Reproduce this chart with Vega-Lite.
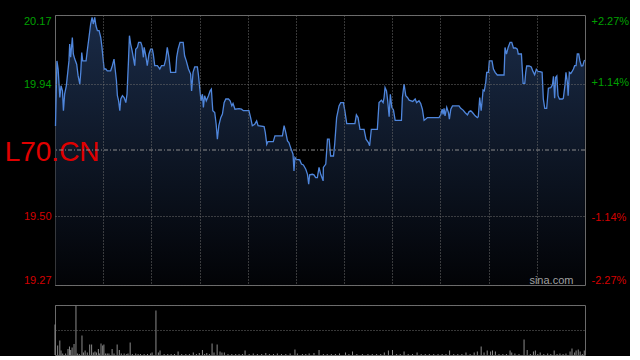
{
"$schema": "https://vega.github.io/schema/vega-lite/v6.json",
"background": "#000000",
"padding": {"left": 4, "top": 14, "right": 0, "bottom": 0},
"spacing": 17,
"config": {
  "view": {"stroke": "#6a6a6a", "strokeWidth": 1},
  "axis": {"labelFont": "Liberation Sans", "labelFontSize": 11, "ticks": false, "domain": false, "gridColor": "#6e6e6e", "gridDash": [1, 2], "gridWidth": 1},
  "text": {"font": "Liberation Sans"}
},
"datasets": {
  "price": [
{"t":0.2,"p":19.800},{"t":0.8,"p":20.017},{"t":1.3,"p":19.990},{"t":2.0,"p":19.895},{"t":2.5,"p":19.934},{"t":3.1,"p":19.917},{"t":3.5,"p":19.851},{"t":4.0,"p":19.906},{"t":4.7,"p":19.934},{"t":5.8,"p":20.017},{"t":6.1,"p":20.073},{"t":6.5,"p":20.029},{"t":7.2,"p":20.095},{"t":7.6,"p":20.040},{"t":8.2,"p":20.023},{"t":9.0,"p":20.006},{"t":9.6,"p":19.967},{"t":10.3,"p":19.940},{"t":10.7,"p":19.979},{"t":11.1,"p":20.045},{"t":11.5,"p":20.017},{"t":12.9,"p":20.017},{"t":13.4,"p":20.051},{"t":14.1,"p":20.095},{"t":14.8,"p":20.140},{"t":15.4,"p":20.162},{"t":15.9,"p":20.140},{"t":16.5,"p":20.162},{"t":17.0,"p":20.134},{"t":17.6,"p":20.118},{"t":18.3,"p":20.118},{"t":19.0,"p":20.095},{"t":19.5,"p":20.062},{"t":19.9,"p":20.029},{"t":20.4,"p":19.990},{"t":21.1,"p":19.990},{"t":21.7,"p":19.984},{"t":23.1,"p":19.984},{"t":23.8,"p":20.001},{"t":24.5,"p":20.023},{"t":24.9,"p":19.995},{"t":25.5,"p":19.951},{"t":25.9,"p":19.901},{"t":26.4,"p":19.884},{"t":26.9,"p":19.851},{"t":27.3,"p":19.890},{"t":28.0,"p":19.901},{"t":28.7,"p":19.895},{"t":29.4,"p":19.878},{"t":29.9,"p":19.906},{"t":30.5,"p":20.017},{"t":30.9,"p":20.101},{"t":31.4,"p":20.073},{"t":32.0,"p":20.051},{"t":32.5,"p":20.029},{"t":33.1,"p":20.001},{"t":33.5,"p":20.056},{"t":34.2,"p":20.062},{"t":34.7,"p":20.079},{"t":35.6,"p":20.079},{"t":36.1,"p":20.067},{"t":36.7,"p":20.029},
{"t":37.0,"p":20.062},{"t":37.7,"p":20.034},{"t":38.3,"p":20.001},{"t":39.0,"p":20.040},{"t":39.7,"p":20.056},{"t":40.4,"p":20.056},{"t":40.8,"p":20.040},{"t":41.4,"p":20.001},{"t":42.5,"p":20.001},{"t":43.5,"p":19.990},{"t":44.2,"p":20.001},{"t":45.3,"p":20.001},{"t":46.0,"p":20.023},{"t":46.6,"p":20.062},{"t":47.3,"p":20.029},{"t":48.0,"p":19.979},{"t":50.1,"p":19.979},{"t":50.5,"p":20.029},{"t":51.1,"p":20.056},{"t":51.9,"p":20.079},{"t":53.2,"p":20.079},{"t":53.8,"p":20.034},{"t":54.5,"p":20.017},{"t":55.4,"p":19.990},{"t":56.3,"p":19.973},{"t":56.7,"p":19.917},{"t":57.3,"p":19.979},{"t":58.0,"p":19.997},{"t":59.1,"p":19.997},{"t":59.5,"p":19.973},{"t":60.2,"p":19.917},{"t":60.6,"p":19.884},{"t":61.2,"p":19.906},{"t":61.6,"p":19.862},{"t":62.1,"p":19.901},{"t":62.8,"p":19.884},{"t":63.7,"p":19.901},{"t":64.4,"p":19.917},{"t":64.9,"p":19.923},{"t":65.5,"p":19.851},{"t":66.3,"p":19.845},{"t":66.9,"p":19.806},{"t":67.4,"p":19.756},{"t":68.0,"p":19.801},{"t":68.8,"p":19.828},{"t":69.5,"p":19.840},{"t":70.2,"p":19.878},{"t":70.9,"p":19.890},{"t":72.0,"p":19.890},{"t":72.7,"p":19.884},{"t":73.4,"p":19.867},{"t":73.9,"p":19.875},{"t":74.7,"p":19.856},
{"t":76.4,"p":19.858},{"t":77.4,"p":19.856},{"t":78.2,"p":19.851},{"t":80.5,"p":19.851},{"t":81.2,"p":19.828},{"t":81.9,"p":19.801},{"t":82.9,"p":19.806},{"t":83.7,"p":19.817},{"t":84.3,"p":19.801},{"t":86.8,"p":19.798},{"t":87.3,"p":19.778},{"t":87.9,"p":19.739},{"t":88.4,"p":19.748},{"t":90.6,"p":19.748},{"t":91.3,"p":19.767},{"t":94.4,"p":19.767},{"t":95.1,"p":19.801},{"t":95.8,"p":19.778},{"t":96.5,"p":19.750},{"t":97.1,"p":19.745},{"t":97.8,"p":19.728},{"t":98.8,"p":19.706},{"t":99.2,"p":19.650},{"t":99.6,"p":19.695},{"t":100.2,"p":19.689},{"t":101.6,"p":19.687},{"t":102.3,"p":19.673},{"t":103.1,"p":19.670},{"t":104.1,"p":19.656},{"t":104.8,"p":19.639},{"t":105.3,"p":19.606},{"t":105.7,"p":19.637},{"t":106.8,"p":19.639},{"t":107.5,"p":19.637},{"t":108.2,"p":19.628},{"t":108.9,"p":19.628},{"t":109.6,"p":19.662},{"t":110.3,"p":19.639},{"t":111.3,"p":19.617},
{"t":111.4,"p":19.662},{"t":112.4,"p":19.673},{"t":113.1,"p":19.756},{"t":113.8,"p":19.756},{"t":114.4,"p":19.700},{"t":115.6,"p":19.700},{"t":116.1,"p":19.739},{"t":116.9,"p":19.828},{"t":117.9,"p":19.867},{"t":118.6,"p":19.878},{"t":119.7,"p":19.878},{"t":120.3,"p":19.851},{"t":121.1,"p":19.808},{"t":124.5,"p":19.808},{"t":125.1,"p":19.837},{"t":125.8,"p":19.828},{"t":126.6,"p":19.789},{"t":128.3,"p":19.789},{"t":129.1,"p":19.756},{"t":130.1,"p":19.745},{"t":130.6,"p":19.734},{"t":131.3,"p":19.789},{"t":133.8,"p":19.789},{"t":134.5,"p":19.878},{"t":135.5,"p":19.886},{"t":136.2,"p":19.878},{"t":136.6,"p":19.895},{"t":137.0,"p":19.928},{"t":137.6,"p":19.917},{"t":138.1,"p":19.884},{"t":138.7,"p":19.831},{"t":139.2,"p":19.906},{"t":139.8,"p":19.862},{"t":140.5,"p":19.853},{"t":141.2,"p":19.819},{"t":143.8,"p":19.819},{"t":144.2,"p":19.895},{"t":144.9,"p":19.940},{"t":145.6,"p":19.901},{"t":146.3,"p":19.895},{"t":147.0,"p":19.886},{"t":148.5,"p":19.882},{"t":149.5,"p":19.890},
{"t":150.1,"p":19.878},{"t":151.1,"p":19.884},{"t":151.8,"p":19.875},{"t":152.5,"p":19.856},{"t":153.2,"p":19.819},{"t":153.9,"p":19.823},{"t":154.6,"p":19.828},{"t":159.4,"p":19.828},{"t":160.1,"p":19.837},{"t":160.7,"p":19.856},{"t":161.1,"p":19.839},{"t":161.5,"p":19.859},{"t":161.9,"p":19.834},{"t":162.6,"p":19.862},{"t":163.3,"p":19.845},{"t":163.7,"p":19.823},{"t":164.3,"p":19.856},{"t":165.0,"p":19.867},{"t":167.7,"p":19.867},{"t":168.4,"p":19.859},{"t":169.4,"p":19.853},{"t":170.2,"p":19.845},{"t":171.2,"p":19.837},{"t":171.9,"p":19.848},{"t":172.6,"p":19.851},{"t":173.3,"p":19.845},{"t":174.4,"p":19.834},{"t":175.3,"p":19.828},{"t":175.7,"p":19.831},{"t":176.3,"p":19.895},{"t":176.9,"p":19.851},{"t":177.3,"p":19.884},{"t":177.7,"p":19.920},{"t":178.2,"p":19.917},{"t":178.8,"p":19.945},{"t":179.2,"p":19.979},{"t":179.9,"p":19.979},{"t":180.3,"p":20.017},{"t":181.4,"p":20.017},{"t":182.0,"p":19.990},{"t":182.7,"p":19.979},{"t":183.6,"p":19.970},{"t":186.4,"p":19.970},{"t":186.8,"p":20.062},
{"t":187.4,"p":20.040},{"t":188.1,"p":20.062},{"t":188.9,"p":20.079},{"t":189.6,"p":20.079},{"t":190.3,"p":20.060},{"t":191.2,"p":20.060},{"t":191.9,"p":20.056},{"t":192.3,"p":20.040},{"t":193.6,"p":20.040},{"t":194.3,"p":19.942},{"t":195.0,"p":19.942},{"t":195.4,"p":19.979},{"t":195.8,"p":20.000},{"t":196.8,"p":20.000},{"t":197.7,"p":19.997},{"t":198.4,"p":19.982},{"t":199.1,"p":19.971},{"t":199.8,"p":19.989},{"t":200.5,"p":19.982},{"t":201.3,"p":19.981},{"t":202.2,"p":19.979},{"t":202.7,"p":19.890},{"t":203.3,"p":19.859},{"t":204.1,"p":19.859},{"t":204.8,"p":19.926},{"t":205.8,"p":19.928},{"t":206.5,"p":19.937},{"t":206.9,"p":19.966},{"t":207.4,"p":19.893},{"t":207.8,"p":19.962},{"t":208.3,"p":19.967},{"t":208.8,"p":19.901},{"t":209.4,"p":19.890},{"t":210.6,"p":19.890},{"t":211.0,"p":19.892},{"t":211.7,"p":19.937},{"t":212.1,"p":19.979},{"t":212.7,"p":19.945},{"t":213.0,"p":19.901},{"t":213.5,"p":19.979},{"t":214.1,"p":19.975},{"t":214.6,"p":19.981},{"t":215.2,"p":19.990},{"t":215.7,"p":20.001},{"t":216.3,"p":20.001},{"t":216.8,"p":20.040},{"t":217.4,"p":20.040},{"t":217.9,"p":20.017},{"t":218.5,"p":20.000},{"t":219.1,"p":20.001},{"t":219.6,"p":20.016},{"t":219.9,"p":20.020}
  ],
  "vol": [
{"t":0,"v":61},{"t":1.1,"v":19},{"t":2.0,"v":29},{"t":2.5,"v":9},{"t":3.2,"v":3},{"t":4.4,"v":3},{"t":5.4,"v":12},{"t":6.0,"v":17},{"t":6.5,"v":10},{"t":7.1,"v":15},{"t":7.9,"v":22},{"t":8.7,"v":99},{"t":9.3,"v":3},{"t":10.1,"v":2},{"t":11.2,"v":39},{"t":11.8,"v":5},{"t":12.5,"v":9},{"t":13.4,"v":5},{"t":14.4,"v":21},{"t":15.2,"v":21},{"t":15.9,"v":5},{"t":16.6,"v":7},{"t":17.2,"v":5},{"t":18.0,"v":12},{"t":18.4,"v":3},{"t":19.1,"v":23},{"t":19.8,"v":19},{"t":20.3,"v":21},{"t":21.0,"v":3},{"t":21.7,"v":3},{"t":22.4,"v":3},{"t":23.7,"v":12},{"t":24.5,"v":3},{"t":25.8,"v":21},{"t":26.7,"v":10},{"t":27.5,"v":3},{"t":28.7,"v":3},{"t":29.8,"v":2},{"t":30.3,"v":3},{"t":31.2,"v":25},{"t":32.1,"v":2},{"t":33.5,"v":3},{"t":34.5,"v":2},{"t":35.5,"v":2},{"t":37.0,"v":2},{"t":38.4,"v":2},{"t":39.7,"v":3},{"t":40.3,"v":5},{"t":41.9,"v":89},{"t":42.9,"v":5},{"t":43.6,"v":9},{"t":45.3,"v":2},{"t":46.8,"v":2},{"t":48.2,"v":2},{"t":49.6,"v":2},{"t":51.1,"v":7},{"t":52.6,"v":2},{"t":54.3,"v":2},{"t":55.8,"v":2},{"t":57.4,"v":5},{"t":58.7,"v":2},{"t":59.9,"v":4},{"t":61.2,"v":10},{"t":62.1,"v":2},{"t":63.0,"v":4},{"t":64.1,"v":2},{"t":65.2,"v":23},{"t":66.0,"v":5},{"t":67.3,"v":21},{"t":68.5,"v":7},{"t":69.3,"v":5},{"t":70.3,"v":5},{"t":71.8,"v":2},{"t":73.4,"v":2},{"t":75.0,"v":2},{"t":76.4,"v":2},{"t":77.8,"v":2},{"t":78.9,"v":9},{"t":80.6,"v":2},{"t":82.3,"v":3},{"t":84.0,"v":2},{"t":85.8,"v":2},{"t":87.5,"v":4},{"t":89.0,"v":2},{"t":90.7,"v":2},{"t":92.3,"v":3},{"t":94.0,"v":2},{"t":95.8,"v":2},{"t":97.6,"v":3},{"t":99.6,"v":11},{"t":100.6,"v":3},{"t":102.7,"v":2},{"t":104.1,"v":2},{"t":105.5,"v":3},{"t":107.5,"v":4},{"t":109.6,"v":10},{"t":111.4,"v":2},{"t":113.0,"v":2},{"t":114.7,"v":2},{"t":116.4,"v":2},{"t":118.1,"v":3},{"t":120.6,"v":5},{"t":122.0,"v":2},{"t":123.5,"v":7},{"t":125.3,"v":2},{"t":127.6,"v":2},{"t":129.9,"v":2},{"t":131.7,"v":2},{"t":133.5,"v":2},{"t":135.2,"v":2},{"t":136.7,"v":5},{"t":138.4,"v":9},{"t":140.1,"v":10},{"t":141.8,"v":2},{"t":143.3,"v":2},{"t":144.9,"v":7},{"t":146.6,"v":2},{"t":148.4,"v":2},{"t":150.3,"v":5},{"t":152.0,"v":2},{"t":153.7,"v":2},{"t":155.4,"v":2},{"t":157.2,"v":2},{"t":159.0,"v":2},{"t":160.7,"v":2},{"t":162.3,"v":2},{"t":163.8,"v":9},{"t":165.5,"v":2},{"t":167.2,"v":2},{"t":168.9,"v":2},{"t":170.6,"v":5},{"t":172.3,"v":2},{"t":174.0,"v":5},{"t":175.3,"v":7},{"t":176.9,"v":17},{"t":178.1,"v":5},{"t":179.4,"v":9},{"t":180.8,"v":7},{"t":181.6,"v":9},{"t":182.8,"v":7},{"t":184.3,"v":2},{"t":185.9,"v":2},{"t":187.4,"v":2},{"t":188.9,"v":9},{"t":189.6,"v":5},{"t":190.9,"v":3},{"t":192.6,"v":2},{"t":194.7,"v":31},{"t":196.0,"v":10},{"t":197.3,"v":2},{"t":198.6,"v":7},{"t":199.4,"v":9},{"t":200.4,"v":2},{"t":201.4,"v":5},{"t":202.9,"v":2},{"t":204.5,"v":3},{"t":205.8,"v":2},{"t":207.2,"v":9},{"t":208.4,"v":2},{"t":209.6,"v":3},{"t":210.9,"v":2},{"t":212.1,"v":3},{"t":213.8,"v":7},{"t":214.6,"v":13},{"t":215.7,"v":5},{"t":216.3,"v":9},{"t":217.2,"v":11},{"t":218.0,"v":7},{"t":218.9,"v":2},{"t":219.7,"v":9}
  ]
},
"vconcat": [
  {
    "width": 530,
    "height": 270,
    "layer": [
      {
        "layer": [
          {
            "data": {"name": "price"},
            "mark": {"type": "area", "fill": {"gradient": "linear", "x1": 0, "y1": 0, "x2": 0, "y2": 1, "stops": [{"offset": 0, "color": "#1a2b47"}, {"offset": 1, "color": "#020306"}]}},
            "encoding": {
              "x": {"field": "t", "type": "quantitative", "scale": {"domain": [0, 220], "nice": false, "zero": false},
                    "axis": {"title": null, "values": [20, 40, 60, 80, 100, 120, 140, 160, 180, 200], "grid": true, "labels": false, "ticks": false, "domain": false, "minExtent": 0, "maxExtent": 0, "zindex": 1}},
              "y": {"field": "p", "type": "quantitative", "scale": {"domain": [19.27, 20.17], "nice": false, "zero": false},
                    "axis": {"title": null, "values": [19.27, 19.5, 19.94, 20.17], "format": ".2f", "grid": true, "labelFlush": true, "labelPadding": 4, "minExtent": 50, "maxExtent": 50, "zindex": 1,
                             "labelColor": {"condition": {"test": "datum.value > 19.72", "value": "#00a000"}, "value": "#d40000"}}},
              "y2": {"datum": 19.27}
            }
          },
          {
            "data": {"name": "price"},
            "mark": {"type": "line", "color": "#4f86dc", "strokeWidth": 1.3},
            "encoding": {
              "x": {"field": "t", "type": "quantitative"},
              "y": {"field": "p", "type": "quantitative"}
            }
          },
          {
            "data": {"values": [{"label": "L70.CN"}]},
            "mark": {"type": "text", "align": "left", "baseline": "alphabetic", "fontSize": 28, "color": "#e00000"},
            "encoding": {
              "x": {"datum": -20.9, "type": "quantitative"},
              "y": {"datum": 19.684, "type": "quantitative"},
              "text": {"field": "label", "type": "nominal"}
            }
          },
          {
            "data": {"values": [{"label": "sina.com"}]},
            "mark": {"type": "text", "align": "right", "baseline": "alphabetic", "fontSize": 11, "color": "#a0a0a0"},
            "encoding": {
              "x": {"datum": 215.2, "type": "quantitative"},
              "y": {"datum": 19.274, "type": "quantitative"},
              "text": {"field": "label", "type": "nominal"}
            }
          }
        ]
      },
      {
        "data": {"values": [{"pct": 0}]},
        "mark": {"type": "rule", "color": "#8c8c8c", "strokeDash": [4, 2, 1, 2], "strokeWidth": 1},
        "encoding": {
          "y": {"field": "pct", "type": "quantitative", "scale": {"domain": [-2.27, 2.27], "nice": false, "zero": false},
                "axis": {"orient": "right", "title": null, "values": [-2.27, -1.14, 1.14, 2.27], "grid": false, "labelFlush": true, "labelPadding": 6,
                         "labelExpr": "(datum.value > 0 ? '+' : '-') + format(abs(datum.value), '.2f') + '%'",
                         "labelColor": {"condition": {"test": "datum.value > 0", "value": "#00a000"}, "value": "#d40000"}}}
        }
      }
    ],
    "resolve": {"scale": {"y": "independent"}, "axis": {"y": "independent"}}
  },
  {
    "width": 530,
    "height": 50,
    "data": {"name": "vol"},
    "mark": {"type": "rule", "color": "#8a8a8a", "strokeWidth": 1},
    "encoding": {
      "x": {"field": "t", "type": "quantitative", "scale": {"domain": [0, 220], "nice": false, "zero": false}, "axis": null},
      "y": {"field": "v", "type": "quantitative", "scale": {"domain": [0, 100], "nice": false},
            "axis": {"title": null, "values": [50, 100], "grid": true, "labels": false, "ticks": false, "domain": false, "minExtent": 50, "maxExtent": 50, "zindex": 1}},
      "y2": {"datum": 0}
    }
  }
]
}
